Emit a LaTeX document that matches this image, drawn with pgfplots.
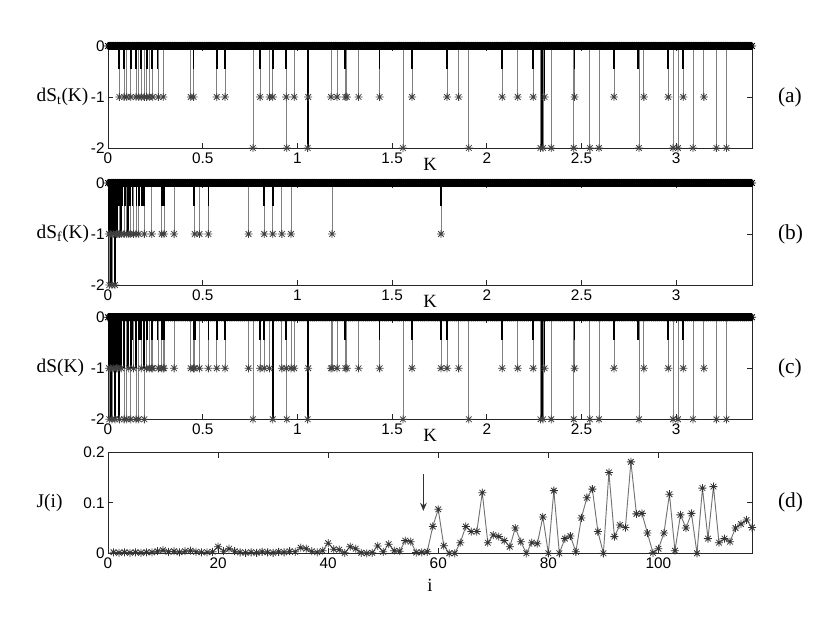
\documentclass[border=0pt]{standalone}
\usepackage{fontspec}
\setmainfont{Liberation Serif}
\newfontfamily\sansf{Liberation Sans}
\usepackage{pgfplots}
\pgfplotsset{compat=1.18}
\usepackage{pgfplotstable}
\usetikzlibrary{arrows.meta}

\pgfdeclareplotmark{mstar}{%
  \pgfpathmoveto{\pgfpoint{-\pgfplotmarksize}{0pt}}%
  \pgfpathlineto{\pgfpoint{\pgfplotmarksize}{0pt}}%
  \pgfpathmoveto{\pgfpoint{0pt}{-\pgfplotmarksize}}%
  \pgfpathlineto{\pgfpoint{0pt}{\pgfplotmarksize}}%
  \pgfpathmoveto{\pgfpoint{-0.707\pgfplotmarksize}{-0.707\pgfplotmarksize}}%
  \pgfpathlineto{\pgfpoint{0.707\pgfplotmarksize}{0.707\pgfplotmarksize}}%
  \pgfpathmoveto{\pgfpoint{-0.707\pgfplotmarksize}{0.707\pgfplotmarksize}}%
  \pgfpathlineto{\pgfpoint{0.707\pgfplotmarksize}{-0.707\pgfplotmarksize}}%
  \pgfusepathqstroke}

\pgfplotstableread[row sep=\\]{
K v\\
0.00 0\\0.01 0\\0.02 0\\0.03 0\\0.04 0\\0.05 0\\0.06 0\\0.07 0\\0.08 0\\0.09 0\\
0.10 0\\0.11 0\\0.12 0\\0.13 0\\0.14 0\\0.15 0\\0.16 0\\0.17 0\\0.18 0\\0.19 0\\
0.20 0\\0.21 0\\0.22 0\\0.23 0\\0.24 0\\0.25 0\\0.26 0\\0.27 0\\0.28 0\\0.29 0\\
0.30 0\\0.31 0\\0.32 0\\0.33 0\\0.34 0\\0.35 0\\0.36 0\\0.37 0\\0.38 0\\0.39 0\\
0.40 0\\0.41 0\\0.42 0\\0.43 0\\0.44 0\\0.45 0\\0.46 0\\0.47 0\\0.48 0\\0.49 0\\
0.50 0\\0.51 0\\0.52 0\\0.53 0\\0.54 0\\0.55 0\\0.56 0\\0.57 0\\0.58 0\\0.59 0\\
0.60 0\\0.61 0\\0.62 0\\0.63 0\\0.64 0\\0.65 0\\0.66 0\\0.67 0\\0.68 0\\0.69 0\\
0.70 0\\0.71 0\\0.72 0\\0.73 0\\0.74 0\\0.75 0\\0.76 0\\0.77 0\\0.78 0\\0.79 0\\
0.80 0\\0.81 0\\0.82 0\\0.83 0\\0.84 0\\0.85 0\\0.86 0\\0.87 0\\0.88 0\\0.89 0\\
0.90 0\\0.91 0\\0.92 0\\0.93 0\\0.94 0\\0.95 0\\0.96 0\\0.97 0\\0.98 0\\0.99 0\\
1.00 0\\1.01 0\\1.02 0\\1.03 0\\1.04 0\\1.05 0\\1.06 0\\1.07 0\\1.08 0\\1.09 0\\
1.10 0\\1.11 0\\1.12 0\\1.13 0\\1.14 0\\1.15 0\\1.16 0\\1.17 0\\1.18 0\\1.19 0\\
1.20 0\\1.21 0\\1.22 0\\1.23 0\\1.24 0\\1.25 0\\1.26 0\\1.27 0\\1.28 0\\1.29 0\\
1.30 0\\1.31 0\\1.32 0\\1.33 0\\1.34 0\\1.35 0\\1.36 0\\1.37 0\\1.38 0\\1.39 0\\
1.40 0\\1.41 0\\1.42 0\\1.43 0\\1.44 0\\1.45 0\\1.46 0\\1.47 0\\1.48 0\\1.49 0\\
1.50 0\\1.51 0\\1.52 0\\1.53 0\\1.54 0\\1.55 0\\1.56 0\\1.57 0\\1.58 0\\1.59 0\\
1.60 0\\1.61 0\\1.62 0\\1.63 0\\1.64 0\\1.65 0\\1.66 0\\1.67 0\\1.68 0\\1.69 0\\
1.70 0\\1.71 0\\1.72 0\\1.73 0\\1.74 0\\1.75 0\\1.76 0\\1.77 0\\1.78 0\\1.79 0\\
1.80 0\\1.81 0\\1.82 0\\1.83 0\\1.84 0\\1.85 0\\1.86 0\\1.87 0\\1.88 0\\1.89 0\\
1.90 0\\1.91 0\\1.92 0\\1.93 0\\1.94 0\\1.95 0\\1.96 0\\1.97 0\\1.98 0\\1.99 0\\
2.00 0\\2.01 0\\2.02 0\\2.03 0\\2.04 0\\2.05 0\\2.06 0\\2.07 0\\2.08 0\\2.09 0\\
2.10 0\\2.11 0\\2.12 0\\2.13 0\\2.14 0\\2.15 0\\2.16 0\\2.17 0\\2.18 0\\2.19 0\\
2.20 0\\2.21 0\\2.22 0\\2.23 0\\2.24 0\\2.25 0\\2.26 0\\2.27 0\\2.28 0\\2.29 0\\
2.30 0\\2.31 0\\2.32 0\\2.33 0\\2.34 0\\2.35 0\\2.36 0\\2.37 0\\2.38 0\\2.39 0\\
2.40 0\\2.41 0\\2.42 0\\2.43 0\\2.44 0\\2.45 0\\2.46 0\\2.47 0\\2.48 0\\2.49 0\\
2.50 0\\2.51 0\\2.52 0\\2.53 0\\2.54 0\\2.55 0\\2.56 0\\2.57 0\\2.58 0\\2.59 0\\
2.60 0\\2.61 0\\2.62 0\\2.63 0\\2.64 0\\2.65 0\\2.66 0\\2.67 0\\2.68 0\\2.69 0\\
2.70 0\\2.71 0\\2.72 0\\2.73 0\\2.74 0\\2.75 0\\2.76 0\\2.77 0\\2.78 0\\2.79 0\\
2.80 0\\2.81 0\\2.82 0\\2.83 0\\2.84 0\\2.85 0\\2.86 0\\2.87 0\\2.88 0\\2.89 0\\
2.90 0\\2.91 0\\2.92 0\\2.93 0\\2.94 0\\2.95 0\\2.96 0\\2.97 0\\2.98 0\\2.99 0\\
3.00 0\\3.01 0\\3.02 0\\3.03 0\\3.04 0\\3.05 0\\3.06 0\\3.07 0\\3.08 0\\3.09 0\\
3.10 0\\3.11 0\\3.12 0\\3.13 0\\3.14 0\\3.15 0\\3.16 0\\3.17 0\\3.18 0\\3.19 0\\
3.20 0\\3.21 0\\3.22 0\\3.23 0\\3.24 0\\3.25 0\\3.26 0\\3.27 0\\3.28 0\\3.29 0\\
3.30 0\\3.31 0\\3.32 0\\3.33 0\\3.34 0\\3.35 0\\3.36 0\\3.37 0\\3.38 0\\3.39 0\\
3.40 0\\
}\zband

\pgfplotstableread{
i J
1 0.002
2 0.001
3 0.002
4 0.001
5 0.002
6 0.001
7 0.002
8 0.002
9 0.004
10 0.006
11 0.003
12 0.004
13 0.002
14 0.004
15 0.005
16 0.003
17 0.002
18 0.002
19 0.003
20 0.013
21 0.004
22 0.009
23 0.004
24 0.002
25 0.001
26 0.002
27 0.001
28 0.003
29 0.002
30 0.001
31 0.003
32 0.002
33 0.004
34 0.003
35 0.011
36 0.009
37 0.004
38 0.002
39 0.005
40 0.020
41 0.008
42 0.007
43 0.001
44 0.013
45 0.009
46 0.001
47 0.000
48 0.001
49 0.0145
50 0.003
51 0.018
52 0.005
53 0.004
54 0.025
55 0.023
56 0.0015
57 0.002
58 0.003
59 0.053
60 0.087
61 0.015
62 0.000
63 0.000
64 0.021
65 0.053
66 0.043
67 0.043
68 0.120
69 0.021
70 0.036
71 0.033
72 0.025
73 0.013
74 0.050
75 0.023
76 0.000
77 0.021
78 0.019
79 0.072
80 0.000
81 0.124
82 0.000
83 0.029
84 0.034
85 0.003
86 0.070
87 0.110
88 0.127
89 0.043
90 0.000
91 0.160
92 0.033
93 0.056
94 0.051
95 0.181
96 0.078
97 0.079
98 0.040
99 0.001
100 0.009
101 0.040
102 0.117
103 0.005
104 0.076
105 0.050
106 0.079
107 0.000
108 0.129
109 0.029
110 0.132
111 0.021
112 0.029
113 0.023
114 0.050
115 0.058
116 0.066
117 0.051
}\Jdata

\pgfplotsset{
  base/.style={scale only axis, width=483pt, height=76.5pt, anchor=south west, clip=false,
    axis line style={black!85, line width=0.6pt}, tick style={black!85, line width=0.6pt},
    major tick length=4pt,
    ticklabel style={font=\sansf\fontsize{11.5}{12}\selectfont},
    yticklabel style={xshift=1pt},
    /pgf/number format/assume math mode=true,
    every axis y label/.style={at={(rel axis cs:0,0.5)}, anchor=west, xshift=-57pt, font=\fontsize{14.5}{16}\selectfont},
    every axis x label/.style={at={(rel axis cs:0.5,0)}, anchor=north, yshift=-4pt, font=\fontsize{14}{16}\selectfont},
  },
  kpanel/.style={base, xmin=0, xmax=3.4, ymin=-2, ymax=0, xtick={0,0.5,1,1.5,2,2.5,3}, ytick={-2,-1,0}, xlabel={K}},
  stems/.style={ycomb, draw=black!50, line width=0.6pt, mark=mstar, mark size=3pt, mark options={draw=black!75, line width=0.6pt}},
  bstems/.style={ycomb, draw=black, line width=1.3pt, no marks},
  zb/.style={only marks, mark=mstar, mark size=3pt, mark options={draw=black, line width=0.7pt}},
  zline/.style={black, line width=6pt, no marks},
}
\newcommand{\plab}{\fontsize{16}{18}\selectfont}

\begin{document}
\begin{tikzpicture}
\useasboundingbox (0,0) rectangle (622.5pt,467.25pt);

% (a)
\begin{axis}[kpanel, at={(81pt,356.25pt)}, ylabel={dS\textsubscript{t}(K)}]
\addplot[stems] coordinates {(0.060,-1)(0.085,-1)(0.099,-1)(0.120,-1)(0.148,-1)(0.162,-1)(0.176,-1)(0.192,-1)(0.204,-1)(0.218,-1)(0.236,-1)(0.266,-1)(0.292,-1)(0.437,-1)(0.452,-1)(0.574,-1)(0.618,-1)(0.765,-2)(0.803,-1)(0.853,-1)(0.870,-1)(0.941,-1)(0.944,-2)(0.983,-1)(1.054,-2)(1.057,-1)(1.177,-1)(1.209,-1)(1.253,-1)(1.261,-1)(1.323,-1)(1.434,-1)(1.557,-2)(1.605,-1)(1.790,-1)(1.851,-1)(1.905,-2)(2.081,-1)(2.163,-1)(2.245,-1)(2.283,-2)(2.297,-2)(2.305,-1)(2.340,-2)(2.459,-2)(2.463,-1)(2.544,-2)(2.592,-2)(2.671,-1)(2.803,-2)(2.829,-1)(2.958,-1)(2.983,-2)(3.009,-2)(3.037,-1)(3.088,-2)(3.146,-1)(3.212,-2)(3.265,-2)};
\addplot[bstems] coordinates {(0.060,-0.45)(0.085,-0.45)(0.120,-0.45)(0.148,-0.45)(0.176,-0.45)(0.204,-0.45)(0.232,-0.45)(0.262,-0.45)(0.452,-0.45)(0.574,-0.45)(0.618,-0.45)(0.803,-0.45)(0.870,-0.45)(0.941,-0.45)(1.054,-2)(1.253,-0.45)(1.434,-0.45)(1.605,-0.45)(1.790,-0.45)(2.081,-0.45)(2.245,-0.45)(2.290,-2)(2.305,-1)(2.463,-0.45)(2.671,-0.45)(2.800,-0.45)(2.958,-0.45)(3.037,-0.45)};
\addplot[zline] table[x=K,y=v] {\zband};
\addplot[zb] table[x=K,y=v] {\zband};
\node[anchor=west, font=\plab] at (rel axis cs:1,0.5) [xshift=16pt] {(a)};
\end{axis}

% (b)
\begin{axis}[kpanel, at={(81pt,253.5pt)}, ylabel={dS\textsubscript{f}(K)}]
\addplot[stems] coordinates {(0.005,-1)(0.007,-2)(0.015,-1)(0.021,-2)(0.028,-1)(0.037,-2)(0.045,-1)(0.052,-1)(0.060,-1)(0.070,-1)(0.085,-1)(0.099,-1)(0.110,-1)(0.120,-1)(0.135,-1)(0.148,-1)(0.162,-1)(0.192,-1)(0.231,-1)(0.284,-1)(0.296,-1)(0.349,-1)(0.458,-1)(0.483,-1)(0.530,-1)(0.742,-1)(0.825,-1)(0.870,-1)(0.918,-1)(0.966,-1)(1.183,-1)(1.758,-1)};
\addplot[bstems] coordinates {(0.003,-1)(0.010,-1)(0.014,-2)(0.018,-1)(0.024,-1)(0.030,-1)(0.036,-2)(0.042,-1)(0.048,-1)(0.060,-0.45)(0.068,-1)(0.076,-0.45)(0.090,-0.45)(0.105,-1)(0.115,-0.45)(0.130,-0.45)(0.150,-0.45)(0.165,-0.45)(0.180,-0.45)(0.190,-0.45)(0.284,-0.45)(0.296,-0.45)(0.455,-0.45)(0.530,-0.45)(0.825,-0.45)(0.870,-0.45)(1.758,-0.45)};
\addplot[zline] table[x=K,y=v] {\zband};
\addplot[zb] table[x=K,y=v] {\zband};
\node[anchor=west, font=\plab] at (rel axis cs:1,0.5) [xshift=16pt] {(b)};
\end{axis}

% (c)
\begin{axis}[kpanel, at={(81pt,152.8pt)}, ylabel={dS(K)}]
\addplot[stems] coordinates {(0.005,-1)(0.007,-2)(0.015,-1)(0.021,-2)(0.028,-1)(0.037,-2)(0.045,-1)(0.052,-1)(0.060,-2)(0.070,-1)(0.085,-2)(0.099,-2)(0.110,-1)(0.120,-2)(0.135,-1)(0.148,-2)(0.162,-2)(0.176,-1)(0.192,-2)(0.204,-1)(0.218,-1)(0.231,-1)(0.236,-1)(0.266,-1)(0.284,-1)(0.292,-1)(0.296,-1)(0.349,-1)(0.437,-1)(0.452,-1)(0.458,-1)(0.483,-1)(0.530,-1)(0.574,-1)(0.618,-1)(0.742,-1)(0.765,-2)(0.803,-1)(0.825,-1)(0.853,-1)(0.870,-2)(0.918,-1)(0.941,-1)(0.944,-2)(0.966,-1)(0.983,-1)(1.054,-2)(1.057,-1)(1.177,-1)(1.183,-1)(1.209,-1)(1.253,-1)(1.261,-1)(1.323,-1)(1.434,-1)(1.557,-2)(1.605,-1)(1.758,-1)(1.790,-1)(1.851,-1)(1.905,-2)(2.081,-1)(2.163,-1)(2.245,-1)(2.283,-2)(2.297,-2)(2.305,-1)(2.340,-2)(2.459,-2)(2.463,-1)(2.544,-2)(2.592,-2)(2.671,-1)(2.803,-2)(2.829,-1)(2.958,-1)(2.983,-2)(3.009,-2)(3.037,-1)(3.088,-2)(3.146,-1)(3.212,-2)(3.265,-2)};
\addplot[bstems] coordinates {(0.003,-1)(0.010,-1)(0.014,-2)(0.018,-1)(0.024,-1)(0.030,-1)(0.036,-2)(0.042,-1)(0.048,-1)(0.060,-2)(0.068,-1)(0.085,-1)(0.105,-1)(0.120,-1)(0.130,-0.45)(0.148,-1)(0.165,-0.45)(0.176,-0.45)(0.190,-1)(0.204,-0.45)(0.232,-0.45)(0.262,-0.45)(0.284,-0.45)(0.296,-0.45)(0.452,-0.45)(0.458,-0.45)(0.530,-0.45)(0.574,-0.45)(0.618,-0.45)(0.803,-0.45)(0.825,-0.45)(0.870,-2)(0.941,-0.45)(1.054,-2)(1.253,-0.45)(1.434,-0.45)(1.605,-0.45)(1.758,-0.45)(1.790,-0.45)(2.081,-0.45)(2.245,-0.45)(2.290,-2)(2.305,-1)(2.463,-0.45)(2.671,-0.45)(2.800,-0.45)(2.958,-0.45)(3.037,-0.45)};
\addplot[zline] table[x=K,y=v] {\zband};
\addplot[zb] table[x=K,y=v] {\zband};
\node[anchor=west, font=\plab] at (rel axis cs:1,0.5) [xshift=16pt] {(c)};
\end{axis}

% (d)
\begin{axis}[base, at={(81pt,52.3pt)}, height=75.75pt, xmin=0, xmax=117, ymin=0, ymax=0.2,
  xtick={0,20,40,60,80,100}, ytick={0,0.1,0.2}, xlabel={i}, ylabel={J(i)},
  xlabel style={yshift=-12pt}]
\addplot[draw=black!55, line width=0.7pt, mark=mstar, mark size=3pt, mark options={draw=black!80, line width=0.6pt}] table[x=i,y=J] {\Jdata};
\draw[-{Stealth[length=6pt,width=5pt]}, line width=0.9pt, black!80] (axis cs:57.3,0.156) -- (axis cs:57.3,0.084);
\node[anchor=west, font=\plab] at (rel axis cs:1,0.5) [xshift=16pt] {(d)};
\end{axis}
\end{tikzpicture}
\end{document}
